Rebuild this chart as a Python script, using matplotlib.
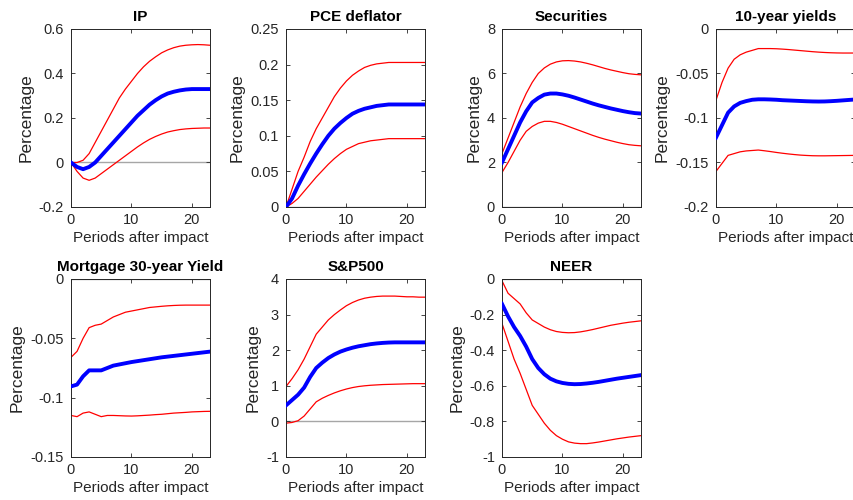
import matplotlib
matplotlib.use("Agg")
import matplotlib.pyplot as plt
from matplotlib.ticker import FuncFormatter

plt.rcParams['font.family'] = ['Liberation Sans', 'DejaVu Sans']
plt.rcParams['axes.unicode_minus'] = False

periods = list(range(24))

titles = ["IP", "PCE deflator", "Securities", "10-year yields",
          "Mortgage 30-year Yield", "S&P500", "NEER"]

ip_med = [0, -0.02, -0.03, -0.02, 0.0, 0.03, 0.06, 0.09, 0.12, 0.15, 0.18, 0.21,
          0.235, 0.26, 0.28, 0.297, 0.31, 0.318, 0.324, 0.328, 0.33, 0.33, 0.33, 0.33]
ip_hi = [0, 0.0, 0.01, 0.04, 0.09, 0.14, 0.19, 0.24, 0.29, 0.33, 0.365, 0.40,
         0.43, 0.455, 0.475, 0.493, 0.506, 0.516, 0.523, 0.527, 0.529, 0.53, 0.529, 0.527]
ip_lo = [0, -0.04, -0.07, -0.08, -0.07, -0.05, -0.03, -0.01, 0.01, 0.03, 0.05, 0.07,
         0.088, 0.104, 0.117, 0.128, 0.137, 0.143, 0.148, 0.151, 0.153, 0.154, 0.155, 0.155]

pce_med = [0, 0.012, 0.03, 0.046, 0.061, 0.075, 0.088, 0.1, 0.11, 0.118, 0.125, 0.131,
           0.135, 0.138, 0.14, 0.142, 0.143, 0.144, 0.144, 0.144, 0.144, 0.144, 0.144, 0.144]
pce_hi = [0, 0.025, 0.05, 0.07, 0.092, 0.11, 0.125, 0.14, 0.155, 0.167, 0.177, 0.185,
          0.191, 0.196, 0.199, 0.201, 0.202, 0.203, 0.203, 0.203, 0.203, 0.203, 0.203, 0.203]
pce_lo = [0, 0.005, 0.012, 0.022, 0.032, 0.042, 0.051, 0.06, 0.068, 0.075, 0.081, 0.085,
          0.089, 0.091, 0.093, 0.094, 0.095, 0.096, 0.096, 0.096, 0.096, 0.096, 0.096, 0.096]

sec_med = [2.0, 2.6, 3.2, 3.8, 4.3, 4.7, 4.9, 5.05, 5.1, 5.1, 5.06, 5.0,
           4.92, 4.83, 4.74, 4.65, 4.57, 4.5, 4.43, 4.37, 4.31, 4.26, 4.22, 4.2]
sec_hi = [2.4, 3.1, 3.8, 4.5, 5.1, 5.6, 6.0, 6.25, 6.42, 6.52, 6.57, 6.58,
          6.56, 6.52, 6.46, 6.39, 6.31, 6.23, 6.16, 6.1, 6.04, 5.99, 5.96, 5.94]
sec_lo = [1.55, 2.0, 2.5, 3.0, 3.4, 3.62, 3.77, 3.85, 3.85, 3.8, 3.72, 3.62,
          3.52, 3.42, 3.32, 3.22, 3.13, 3.05, 2.98, 2.91, 2.85, 2.8, 2.77, 2.75]

y10_med = [-0.122, -0.108, -0.094, -0.087, -0.083, -0.081, -0.0795, -0.079, -0.079, -0.0792, -0.0795, -0.08,
           -0.0803, -0.0806, -0.0809, -0.0812, -0.0814, -0.0815, -0.0814, -0.0811, -0.0807, -0.0802, -0.0797, -0.0792]
y10_hi = [-0.08, -0.06, -0.044, -0.034, -0.029, -0.026, -0.024, -0.022, -0.022, -0.022, -0.0222, -0.0226,
          -0.0231, -0.0237, -0.0243, -0.0249, -0.0255, -0.026, -0.0264, -0.0267, -0.0269, -0.027, -0.027, -0.027]
y10_lo = [-0.16, -0.151, -0.142, -0.14, -0.138, -0.137, -0.1365, -0.136, -0.1368, -0.1377, -0.1387, -0.1396,
          -0.1404, -0.1411, -0.1417, -0.1421, -0.1424, -0.1425, -0.1425, -0.1424, -0.1423, -0.1422, -0.1421, -0.142]

mtg_med = [-0.0905, -0.089, -0.082, -0.077, -0.077, -0.077, -0.075, -0.073, -0.072, -0.071, -0.070, -0.0692,
           -0.0684, -0.0676, -0.0668, -0.066, -0.0654, -0.0648, -0.0642, -0.0636, -0.063, -0.0624, -0.0618, -0.0612]
mtg_hi = [-0.066, -0.061, -0.050, -0.041, -0.039, -0.038, -0.035, -0.032, -0.030, -0.028, -0.027, -0.026,
          -0.025, -0.024, -0.0235, -0.023, -0.0226, -0.0223, -0.0221, -0.022, -0.022, -0.022, -0.022, -0.022]
mtg_lo = [-0.115, -0.116, -0.113, -0.112, -0.114, -0.116, -0.115, -0.115, -0.1152, -0.1154, -0.1155, -0.1153,
          -0.115, -0.1147, -0.1143, -0.114, -0.1135, -0.113, -0.1127, -0.1124, -0.112, -0.1118, -0.1116, -0.1115]

spx_med = [0.45, 0.6, 0.75, 0.95, 1.25, 1.5, 1.65, 1.78, 1.88, 1.96, 2.02, 2.07,
           2.11, 2.14, 2.17, 2.19, 2.205, 2.215, 2.22, 2.22, 2.22, 2.22, 2.22, 2.22]
spx_hi = [0.98, 1.2, 1.45, 1.75, 2.1, 2.45, 2.65, 2.85, 3.0, 3.13, 3.25, 3.34,
          3.41, 3.46, 3.49, 3.51, 3.52, 3.52, 3.52, 3.51, 3.5, 3.5, 3.49, 3.49]
spx_lo = [-0.05, -0.03, 0.02, 0.15, 0.35, 0.55, 0.65, 0.73, 0.8, 0.86, 0.91, 0.95,
          0.98, 1.0, 1.015, 1.025, 1.035, 1.04, 1.045, 1.05, 1.055, 1.06, 1.06, 1.06]

neer_med = [-0.14, -0.21, -0.27, -0.32, -0.38, -0.45, -0.5, -0.535, -0.56, -0.575, -0.584, -0.589,
            -0.591, -0.59, -0.587, -0.583, -0.578, -0.572, -0.566, -0.56, -0.555, -0.55, -0.545, -0.54]
neer_hi = [-0.01, -0.08, -0.11, -0.14, -0.19, -0.23, -0.25, -0.27, -0.285, -0.295, -0.3, -0.302,
           -0.301, -0.297, -0.291, -0.284, -0.276, -0.268, -0.26, -0.254, -0.248, -0.243, -0.239, -0.235]
neer_lo = [-0.25, -0.35, -0.45, -0.53, -0.62, -0.71, -0.76, -0.81, -0.85, -0.88, -0.9, -0.915,
           -0.922, -0.925, -0.925, -0.921, -0.916, -0.91, -0.904, -0.898, -0.893, -0.888, -0.884, -0.88]

medians = [ip_med, pce_med, sec_med, y10_med, mtg_med, spx_med, neer_med]
uppers = [ip_hi, pce_hi, sec_hi, y10_hi, mtg_hi, spx_hi, neer_hi]
lowers = [ip_lo, pce_lo, sec_lo, y10_lo, mtg_lo, spx_lo, neer_lo]

y_ticks = [
    [-0.2, 0, 0.2, 0.4, 0.6],
    [0, 0.05, 0.1, 0.15, 0.2, 0.25],
    [0, 2, 4, 6, 8],
    [-0.2, -0.15, -0.1, -0.05, 0],
    [-0.15, -0.1, -0.05, 0],
    [-1, 0, 1, 2, 3, 4],
    [-1, -0.8, -0.6, -0.4, -0.2, 0],
]
x_ticks = [0, 10, 20]

W, H = 854, 500
fig = plt.figure(figsize=(W / 100, H / 100), dpi=100)

# panel grid in pixels: 4 columns, 2 rows
lefts = [71, 286, 502, 716]
tops = [29, 279]
aw, ah = 139, 178

dark = "#262626"
fmt = FuncFormatter(lambda v, p: "%g" % v)

for i in range(7):
    r, c = divmod(i, 4)
    ax = fig.add_axes([lefts[c] / W, 1 - (tops[r] + ah) / H, aw / W, ah / H])
    ax.axhline(0, color="#a6a6a6", lw=1.0, zorder=1)
    ax.plot(periods, uppers[i], color="red", lw=0.9, zorder=2)
    ax.plot(periods, lowers[i], color="red", lw=0.9, zorder=2)
    ax.plot(periods, medians[i], color="blue", lw=2.8, zorder=3,
            solid_joinstyle="round")
    ax.set_xlim(0, 23)
    ax.set_ylim(y_ticks[i][0], y_ticks[i][-1])
    ax.set_xticks(x_ticks)
    ax.set_yticks(y_ticks[i])
    ax.yaxis.set_major_formatter(fmt)
    ax.xaxis.set_major_formatter(fmt)
    ax.tick_params(direction="in", top=True, right=True, length=3, width=0.6,
                   colors=dark, labelsize=10.5)
    ax.tick_params(axis="y", pad=5)
    ax.tick_params(axis="x", pad=4)
    for s in ax.spines.values():
        s.set_color(dark)
        s.set_linewidth(0.7)
    ax.set_title(titles[i], fontsize=11, fontweight="bold", pad=5.5)
    ax.set_xlabel("Periods after impact", fontsize=11, color=dark, labelpad=3)
    ax.set_ylabel("Percentage", fontsize=12.5, color=dark, labelpad=4)

fig.savefig("out.png", dpi=100)
